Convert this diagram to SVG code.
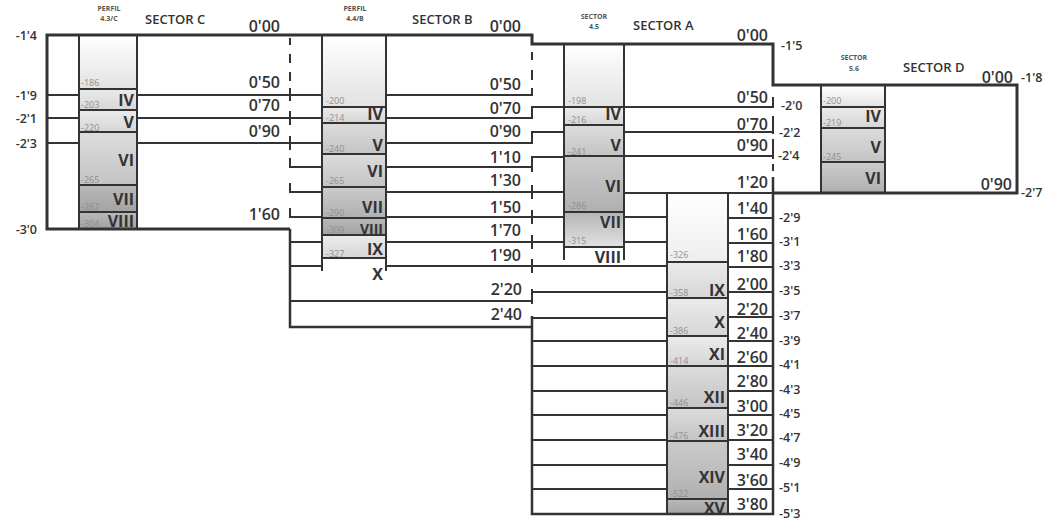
<svg xmlns="http://www.w3.org/2000/svg" width="1049" height="522" viewBox="0 0 1049 522">
<defs>
<linearGradient id="gW" x1="0" y1="0" x2="0" y2="1"><stop offset="0" stop-color="#ffffff"/><stop offset="1" stop-color="#e2e2e2"/></linearGradient>
<linearGradient id="gP" x1="0" y1="0" x2="0" y2="1"><stop offset="0" stop-color="#ffffff"/><stop offset="1" stop-color="#eeeeee"/></linearGradient>
<linearGradient id="gL" x1="0" y1="0" x2="0" y2="1"><stop offset="0" stop-color="#ebebeb"/><stop offset="1" stop-color="#d6d6d6"/></linearGradient>
<linearGradient id="gM" x1="0" y1="0" x2="0" y2="1"><stop offset="0" stop-color="#dcdcdc"/><stop offset="1" stop-color="#c4c4c4"/></linearGradient>
<linearGradient id="gD" x1="0" y1="0" x2="0" y2="1"><stop offset="0" stop-color="#cbcbcb"/><stop offset="1" stop-color="#b0b0b0"/></linearGradient>
<linearGradient id="gDD" x1="0" y1="0" x2="0" y2="1"><stop offset="0" stop-color="#b9b9b9"/><stop offset="1" stop-color="#a3a3a3"/></linearGradient>
<linearGradient id="gR" x1="0" y1="0" x2="0" y2="1"><stop offset="0" stop-color="#b4b4b4"/><stop offset="1" stop-color="#e2e2e2"/></linearGradient>
<style>
.ln{stroke:#333;stroke-width:2;fill:none}
.ol{stroke:#333;stroke-width:3;fill:none}
.ob{stroke:#333;stroke-width:2.5;fill:none}
text{font-family:"Open Sans","DejaVu Sans",sans-serif;fill:#333}
.v{font-weight:600;font-size:16px;text-anchor:end}
.r{font-weight:700;font-size:16px;text-anchor:end}
.r14{font-weight:700;font-size:14px;text-anchor:end}
.s{font-weight:400;font-size:9px;fill:#8f8f8f}
.d{font-weight:600;font-size:12.5px}
.de{font-weight:600;font-size:12.5px;text-anchor:end}
.h{font-weight:600;font-size:13px}
.p{font-weight:700;font-size:7px;fill:#555;text-anchor:middle}
</style>
</defs>
<rect width="1049" height="522" fill="#ffffff"/>

<g id="sector-c">
<rect x="79" y="35" width="58" height="54" fill="url(#gW)"/>
<rect x="79" y="89" width="58" height="21" fill="url(#gL)"/>
<rect x="79" y="110" width="58" height="22" fill="url(#gL)"/>
<rect x="79" y="132" width="58" height="53" fill="url(#gM)"/>
<rect x="79" y="185" width="58" height="27" fill="url(#gDD)"/>
<rect x="79" y="212" width="58" height="17" fill="url(#gDD)"/>
<path class="ln" d="M79,35V229M137,35V229M79,89H137M79,110H137M79,132H137M79,185H137M79,212H137"/>
<text class="p" x="109" y="11">PERFIL</text>
<text class="p" x="109" y="21">4.3/C</text>
<text class="h" x="145" y="24">SECTOR C</text>
<text class="v" x="280" y="32">0'00</text>
<text class="v" x="280" y="88">0'50</text>
<text class="v" x="280" y="111">0'70</text>
<text class="v" x="280" y="137">0'90</text>
<text class="v" x="280" y="220">1'60</text>
<text class="de" x="37" y="40">-1'4</text>
<text class="de" x="37" y="100">-1'9</text>
<text class="de" x="37" y="123">-2'1</text>
<text class="de" x="37" y="148">-2'3</text>
<text class="de" x="37" y="234">-3'0</text>
<text class="s" x="81" y="86">-186</text>
<text class="s" x="81" y="108">-203</text>
<text class="s" x="81" y="131">-220</text>
<text class="s" x="81" y="183">-265</text>
<text class="s" x="81" y="210">-287</text>
<text class="s" x="81" y="227">-304</text>
<text class="r" x="134" y="106">IV</text>
<text class="r" x="134" y="128">V</text>
<text class="r" x="134" y="166">VI</text>
<text class="r" x="134" y="205">VII</text>
<text class="r" x="134" y="227">VIII</text>
</g>

<g id="sector-b">
<rect x="322" y="35" width="64" height="72" fill="url(#gW)"/>
<rect x="322" y="107" width="64" height="16" fill="url(#gL)"/>
<rect x="322" y="123" width="64" height="31" fill="url(#gM)"/>
<rect x="322" y="154" width="64" height="33" fill="url(#gM)"/>
<rect x="322" y="187" width="64" height="31" fill="url(#gD)"/>
<rect x="322" y="218" width="64" height="17" fill="url(#gDD)"/>
<rect x="322" y="235" width="64" height="23" fill="url(#gL)"/>
<path class="ln" d="M322,35V271M386,35V271M322,107H386M322,123H386M322,154H386M322,187H386M322,218H386M322,235H386M322,258H386"/>
<text class="p" x="355" y="11">PERFIL</text>
<text class="p" x="355" y="21">4.4/B</text>
<text class="h" x="412" y="24">SECTOR B</text>
<text class="v" x="521" y="32">0'00</text>
<text class="v" x="521" y="90">0'50</text>
<text class="v" x="521" y="114">0'70</text>
<text class="v" x="521" y="137">0'90</text>
<text class="v" x="521" y="163">1'10</text>
<text class="v" x="521" y="186">1'30</text>
<text class="v" x="521" y="213">1'50</text>
<text class="v" x="521" y="236">1'70</text>
<text class="v" x="521" y="261">1'90</text>
<text class="v" x="522" y="295">2'20</text>
<text class="v" x="522" y="320">2'40</text>
<text class="s" x="326" y="104">-200</text>
<text class="s" x="326" y="121">-214</text>
<text class="s" x="326" y="152">-240</text>
<text class="s" x="326" y="184">-265</text>
<text class="s" x="326" y="216">-290</text>
<text class="s" x="326" y="233">-309</text>
<text class="s" x="326" y="257">-327</text>
<text class="r" x="383" y="120">IV</text>
<text class="r" x="383" y="151">V</text>
<text class="r" x="383" y="177">VI</text>
<text class="r" x="383" y="213">VII</text>
<text class="r14" x="383" y="234">VIII</text>
<text class="r" x="383" y="255">IX</text>
<text class="r" x="383" y="280">X</text>
</g>

<g id="sector-a">
<rect x="564" y="44" width="60" height="63" fill="url(#gW)"/>
<rect x="564" y="107" width="60" height="18" fill="url(#gL)"/>
<rect x="564" y="125" width="60" height="31" fill="url(#gM)"/>
<rect x="564" y="156" width="60" height="56" fill="url(#gD)"/>
<rect x="564" y="212" width="60" height="35" fill="url(#gR)"/>
<path class="ln" d="M564,44V260M624,44V260M564,107H624M564,125H624M564,156H624M564,212H624M564,247H624"/>
<rect x="667" y="193" width="61" height="69" fill="url(#gP)"/>
<rect x="667" y="262" width="61" height="36" fill="url(#gL)"/>
<rect x="667" y="298" width="61" height="38" fill="url(#gL)"/>
<rect x="667" y="336" width="61" height="30" fill="url(#gL)"/>
<rect x="667" y="366" width="61" height="42" fill="url(#gM)"/>
<rect x="667" y="408" width="61" height="33" fill="url(#gM)"/>
<rect x="667" y="441" width="61" height="58" fill="url(#gD)"/>
<rect x="667" y="499" width="61" height="15" fill="url(#gDD)"/>
<path class="ln" d="M667,193V514M728,193V514M667,262H728M667,298H728M667,336H728M667,366H728M667,408H728M667,441H728M667,499H728"/>
<text class="p" x="594" y="19">SECTOR</text>
<text class="p" x="594" y="29">4.5</text>
<text class="h" x="633" y="30">SECTOR A</text>
<text class="v" x="768" y="41">0'00</text>
<text class="v" x="768" y="103">0'50</text>
<text class="v" x="768" y="130">0'70</text>
<text class="v" x="768" y="151">0'90</text>
<text class="v" x="768" y="188">1'20</text>
<text class="v" x="768" y="214">1'40</text>
<text class="v" x="768" y="240">1'60</text>
<text class="v" x="768" y="262">1'80</text>
<text class="v" x="768" y="290">2'00</text>
<text class="v" x="768" y="315">2'20</text>
<text class="v" x="768" y="339">2'40</text>
<text class="v" x="768" y="363">2'60</text>
<text class="v" x="768" y="387">2'80</text>
<text class="v" x="768" y="412">3'00</text>
<text class="v" x="768" y="436">3'20</text>
<text class="v" x="768" y="460">3'40</text>
<text class="v" x="768" y="486">3'60</text>
<text class="v" x="768" y="510">3'80</text>
<text class="d" x="781" y="50">-1'5</text>
<text class="d" x="781" y="110">-2'0</text>
<text class="d" x="779" y="137">-2'2</text>
<text class="d" x="778" y="160">-2'4</text>
<text class="d" x="779" y="222">-2'9</text>
<text class="d" x="779" y="246">-3'1</text>
<text class="d" x="779" y="270">-3'3</text>
<text class="d" x="779" y="295">-3'5</text>
<text class="d" x="779" y="320">-3'7</text>
<text class="d" x="779" y="345">-3'9</text>
<text class="d" x="779" y="369">-4'1</text>
<text class="d" x="779" y="394">-4'3</text>
<text class="d" x="779" y="418">-4'5</text>
<text class="d" x="779" y="442">-4'7</text>
<text class="d" x="779" y="467">-4'9</text>
<text class="d" x="779" y="492">-5'1</text>
<text class="d" x="779" y="518">-5'3</text>
<text class="s" x="568" y="104">-198</text>
<text class="s" x="568" y="123">-216</text>
<text class="s" x="568" y="155">-241</text>
<text class="s" x="568" y="209">-286</text>
<text class="s" x="568" y="244">-315</text>
<text class="r" x="621" y="120">IV</text>
<text class="r" x="621" y="151">V</text>
<text class="r" x="621" y="192">VI</text>
<text class="r" x="621" y="228">VII</text>
<text class="r" x="621" y="263">VIII</text>
<text class="s" x="670" y="258">-326</text>
<text class="s" x="670" y="296">-358</text>
<text class="s" x="670" y="334">-386</text>
<text class="s" x="670" y="364">-414</text>
<text class="s" x="670" y="406">-446</text>
<text class="s" x="670" y="439">-476</text>
<text class="s" x="670" y="497">-522</text>
<text class="r" x="725" y="296">IX</text>
<text class="r" x="725" y="328">X</text>
<text class="r" x="725" y="360">XI</text>
<text class="r" x="725" y="403">XII</text>
<text class="r" x="725" y="437">XIII</text>
<text class="r" x="725" y="483">XIV</text>
<text class="r" x="725" y="514">XV</text>
</g>

<g id="sector-d">
<rect x="821" y="86" width="64" height="21" fill="url(#gW)"/>
<rect x="821" y="107" width="64" height="21" fill="url(#gL)"/>
<rect x="821" y="128" width="64" height="34" fill="url(#gM)"/>
<rect x="821" y="162" width="64" height="31" fill="url(#gD)"/>
<path class="ln" d="M821,86V193M885,86V193M821,107H885M821,128H885M821,162H885"/>
<text class="p" x="854" y="60">SECTOR</text>
<text class="p" x="854" y="71">5.6</text>
<text class="h" x="903" y="72">SECTOR D</text>
<text class="v" x="1013" y="83">0'00</text>
<text class="v" x="1012" y="190">0'90</text>
<text class="d" x="1021" y="82">-1'8</text>
<text class="d" x="1021" y="197">-2'7</text>
<text class="s" x="823" y="104">-200</text>
<text class="s" x="823" y="126">-219</text>
<text class="s" x="823" y="160">-245</text>
<text class="r" x="881" y="122">IV</text>
<text class="r" x="881" y="153">V</text>
<text class="r" x="881" y="184">VI</text>
</g>

<g id="connectors">
<path class="ol" d="M290,229H47V35H532V44H773V85H1017V193H773"/>
<path class="ob" d="M290,229V327H532"/>
<path class="ob" d="M532,316V514H773V177"/>
<path class="ln" d="M47,95H79M47,118H79M47,143H79M137,95H322M137,118H322M137,143H322"/>
<path class="ln" d="M290,38V45M290,54V63M290,72V81M290,88V101M290,111V125M290,136V150M290,158V167H322M290,183V192H322M290,208V217H322"/>
<path class="ln" d="M290,242H322M290,266H322M290,301H532"/>
<path class="ln" d="M386,95H532V88M386,118H532V107H564M386,143H532V132H564M386,167H532V157H564M532,167V172"/>
<path class="ln" d="M386,192H564M386,217H564M386,242H564M386,266H667"/>
<path class="ln" d="M532,52V60M532,70V80M532,185V199M532,210V224M532,235V249M532,259V273M532,289V304M532,292H667M532,318H667"/>
<path class="ln" d="M624,107H773V97M624,132H773M624,156H773M773,116V134M773,139V159M773,164V171"/>
<path class="ln" d="M624,193H773M624,217H667M624,242H667"/>
<path class="ln" d="M532,341H667M532,366H667M532,391H667M532,415H667M532,440H667M532,465H667M532,489H667"/>
<path class="ln" d="M728,218H773M728,243H773M728,267H773M728,292H773M728,317H773M728,341H773M728,366H773M728,391H773M728,415H773M728,440H773M728,465H773M728,489H773"/>
</g>
</svg>
